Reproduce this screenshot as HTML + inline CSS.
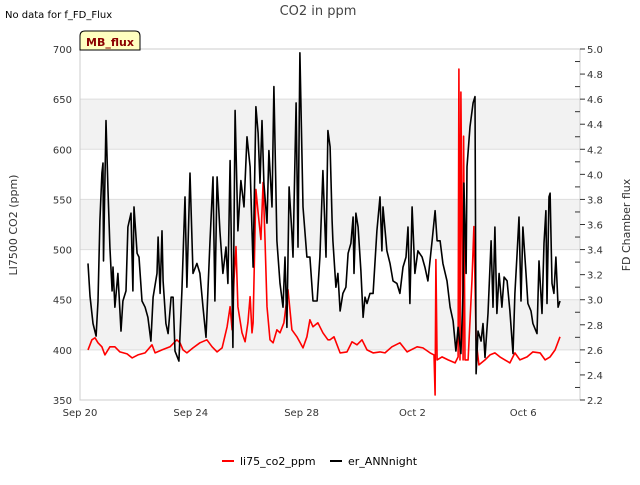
<!DOCTYPE html>
<html><head><meta charset="utf-8"><style>
body{margin:0;background:#fff;font-family:"Liberation Sans","DejaVu Sans",sans-serif;}
svg text{font-family:"DejaVu Sans","Liberation Sans",sans-serif;}
</style></head><body>
<svg id="chart" width="640" height="480" xmlns="http://www.w3.org/2000/svg">
<rect x="0" y="0" width="640" height="480" fill="#fff"/>
<text x="5" y="18" font-size="10" fill="#000">No data for f_FD_Flux</text>
<text x="318" y="15" font-size="13" fill="#444" text-anchor="middle">CO2 in ppm</text>
<g id="bands"></g>
<g id="grid"></g>
<g id="axes"></g>
<g id="series"></g>
<g>
<path d="M80,50 L80,36 Q80,31 85,31 L135,31 Q140,31 140,36 L140,50 Z" fill="#ffffc0" stroke="#000" stroke-width="1"/>
<text x="110" y="46" font-size="11" font-weight="bold" fill="#8b0000" text-anchor="middle">MB_flux</text>
</g>
<text transform="translate(17,225) rotate(-90)" font-size="11" fill="#333" text-anchor="middle">LI7500 CO2 (ppm)</text>
<text transform="translate(630,225) rotate(-90)" font-size="11" fill="#333" text-anchor="middle">FD Chamber flux</text>
<g>
<line x1="222" y1="461" x2="234" y2="461" stroke="#f00" stroke-width="2"/>
<text x="240" y="465" font-size="11" fill="#000">li75_co2_ppm</text>
<line x1="330" y1="461" x2="342" y2="461" stroke="#000" stroke-width="2"/>
<text x="348" y="465" font-size="11" fill="#000">er_ANNnight</text>
</g>
</svg>
<script>
// Data (days since Sep 20)
const xTickLabels=["Sep 20","Sep 24","Sep 28","Oct 2","Oct 6"];
const xTickDays=[0,4,8,12,16];
const leftTicks=[350,400,450,500,550,600,650,700];
const rightTicks=[2.2,2.4,2.6,2.8,3.0,3.2,3.4,3.6,3.8,4.0,4.2,4.4,4.6,4.8,5.0];
const co2Days=[.29,.43,.54,.65,.79,.90,1.08,1.26,1.44,1.70,1.88,2.09,2.35,2.60,2.71,2.96,3.25,3.50,3.61,3.72,3.86,4.08,4.33,4.58,4.77,4.95,5.13,5.31,5.42,5.49,5.56,5.63,5.70,5.85,5.96,6.06,6.14,6.21,6.25,6.35,6.43,6.53,6.61,6.68,6.75,6.86,6.97,7.11,7.22,7.36,7.51,7.65,7.83,8.05,8.19,8.30,8.41,8.59,8.77,8.95,9.03,9.17,9.39,9.64,9.82,10.00,10.18,10.36,10.58,10.83,11.01,11.26,11.55,11.81,12.17,12.38,12.64,12.78,12.82,12.85,12.89,13.07,13.29,13.54,13.65,13.68,13.72,13.75,13.83,13.85,13.90,14.01,14.15,14.22,14.30,14.40,14.62,14.80,14.98,15.16,15.34,15.52,15.70,15.88,16.14,16.35,16.61,16.79,16.97,17.15,17.33];
const co2Values=[400,410,412,407,403,395,403,403,398,396,392,395,397,405,397,400,403,410,407,400,397,402,407,410,403,398,402,423,443,420,470,503,443,417,408,427,453,417,427,560,537,510,567,510,443,410,407,420,417,427,460,420,413,402,413,430,423,427,417,410,410,413,397,398,408,405,410,400,397,398,397,403,407,398,403,402,397,395,355,490,390,393,390,387,393,680,390,657,390,613,390,390,470,523,410,385,390,395,397,393,390,387,397,390,393,398,397,390,393,400,413];
const erDays=[.29,.36,.47,.58,.65,.72,.79,.83,.85,.94,1.01,1.08,1.16,1.19,1.26,1.37,1.48,1.55,1.66,1.73,1.84,1.91,1.95,2.06,2.13,2.24,2.35,2.45,2.56,2.64,2.78,2.82,2.89,2.96,3.00,3.10,3.18,3.29,3.36,3.43,3.57,3.68,3.79,3.86,3.97,4.08,4.22,4.33,4.44,4.55,4.69,4.80,4.87,4.95,5.05,5.16,5.27,5.34,5.42,5.52,5.60,5.70,5.81,5.92,6.03,6.14,6.25,6.35,6.43,6.50,6.57,6.64,6.75,6.82,6.93,7.00,7.11,7.22,7.33,7.40,7.47,7.55,7.65,7.69,7.80,7.87,7.94,8.05,8.19,8.30,8.41,8.56,8.66,8.77,8.88,8.95,9.03,9.10,9.13,9.24,9.31,9.39,9.49,9.60,9.68,9.78,9.86,9.89,9.96,10.04,10.14,10.22,10.29,10.36,10.47,10.58,10.72,10.83,10.90,10.94,11.08,11.19,11.30,11.44,11.55,11.66,11.77,11.84,11.91,11.99,12.09,12.20,12.35,12.45,12.56,12.71,12.82,12.89,13.00,13.10,13.25,13.36,13.47,13.57,13.65,13.75,13.83,13.86,13.94,13.97,14.08,14.19,14.26,14.30,14.37,14.48,14.55,14.62,14.73,14.84,14.91,14.98,15.05,15.13,15.23,15.31,15.42,15.52,15.63,15.70,15.78,15.85,15.92,15.99,16.10,16.17,16.28,16.35,16.50,16.57,16.68,16.75,16.82,16.86,16.93,16.97,17.04,17.11,17.18,17.26,17.33];
const erValues=[3.29,3.03,2.81,2.71,2.99,3.63,4.01,4.09,3.31,4.43,3.87,3.42,3.07,3.26,2.94,3.21,2.75,2.99,3.07,3.58,3.69,3.07,3.74,3.37,3.34,2.99,2.94,2.86,2.67,3.02,3.21,3.50,3.05,3.55,3.15,2.81,2.73,3.02,3.02,2.59,2.51,3.07,3.82,3.10,4.01,3.21,3.29,3.21,2.94,2.70,3.45,3.98,2.99,3.98,3.55,3.21,3.42,3.13,4.11,2.62,4.51,3.55,3.95,3.74,4.30,4.06,3.26,4.54,4.33,3.93,4.43,3.93,3.61,4.19,3.74,4.70,3.47,3.13,2.94,3.34,2.78,3.90,3.53,3.34,4.57,3.42,4.97,3.74,3.34,3.34,2.99,2.99,3.34,4.03,3.34,4.35,4.22,3.63,3.47,3.10,3.21,2.91,3.05,3.10,3.37,3.45,3.66,3.21,3.69,3.58,3.23,2.86,3.02,2.97,3.05,3.05,3.55,3.82,3.39,3.74,3.39,3.29,3.15,3.13,3.05,3.26,3.34,3.58,2.97,3.74,3.21,3.39,3.34,3.26,3.15,3.47,3.71,3.47,3.47,3.29,3.15,2.94,2.83,2.59,2.78,2.57,3.07,3.93,3.21,4.06,4.38,4.57,4.62,2.41,2.75,2.67,2.81,2.54,2.89,3.47,2.94,3.58,2.89,3.21,2.94,3.18,3.15,2.91,2.57,3.05,3.37,3.66,2.99,3.58,3.21,2.97,2.91,2.81,2.73,3.31,2.89,3.45,3.71,2.97,3.82,3.85,3.13,3.05,3.34,2.94,2.99];

const NS="http://www.w3.org/2000/svg";
const L=80,R=580,T=49,B=400;
const xS=d=>L+d*27.7;
const yL=v=>B-(v-350)*(B-T)/350;
const yR=v=>B-(v-2.2)*(B-T)/2.8;
function mk(tag,attrs,parent){const e=document.createElementNS(NS,tag);for(const k in attrs)e.setAttribute(k,attrs[k]);parent.appendChild(e);return e;}
const bands=document.getElementById('bands'),grid=document.getElementById('grid'),axes=document.getElementById('axes'),series=document.getElementById('series');
for(let i=0;i<leftTicks.length-1;i++){
  if(i%2===1){
    const r=mk('rect',{x:L,y:yL(leftTicks[i+1]),width:R-L,height:yL(leftTicks[i])-yL(leftTicks[i+1]),fill:'#f2f2f2'},bands);
    
    
  }
}
leftTicks.forEach(v=>{
  const g=mk('line',{x1:L,x2:R,y1:yL(v),y2:yL(v),stroke:'#ddd','stroke-width':1},grid);
  
  
  const t=mk('text',{x:L-8,y:yL(v)+4,'font-size':10,fill:'#333','text-anchor':'end'},axes);
  
  
  t.textContent=v;
});
const fr=mk('rect',{x:L,y:T,width:R-L,height:B-T,fill:'none',stroke:'#ccc','stroke-width':1},axes);


rightTicks.forEach(v=>{
  const tk=mk('line',{x1:R,x2:R+5,y1:yR(v),y2:yR(v),stroke:'#333','stroke-width':1},axes);
  
  
  const t=mk('text',{x:R+7,y:yR(v)+4,'font-size':10,fill:'#333'},axes);
  
  
  t.textContent=v.toFixed(1);
});
for(let i=0;i<rightTicks.length-1;i++){
  const m=(rightTicks[i]+rightTicks[i+1])/2;
  const tk=mk('line',{x1:R-5,x2:R,y1:yR(m),y2:yR(m),stroke:'#333','stroke-width':1},axes);
  
  
}
xTickDays.forEach((d,i)=>{
  const t=mk('text',{x:xS(d),y:416,'font-size':10,fill:'#333','text-anchor':'middle'},axes);
  
  
  t.textContent=xTickLabels[i];
});
const co2Pts=co2Days.map((d,i)=>xS(d).toFixed(1)+','+yL(co2Values[i]).toFixed(1)).join(' ');
const erPts=erDays.map((d,i)=>xS(d).toFixed(1)+','+yR(erValues[i]).toFixed(1)).join(' ');
const l1=mk('polyline',{points:co2Pts,fill:'none',stroke:'#f00','stroke-width':1.6,'stroke-linejoin':'round'},series);


const l2=mk('polyline',{points:erPts,fill:'none',stroke:'#000','stroke-width':1.6,'stroke-linejoin':'round'},series);


</script>
</body></html>
